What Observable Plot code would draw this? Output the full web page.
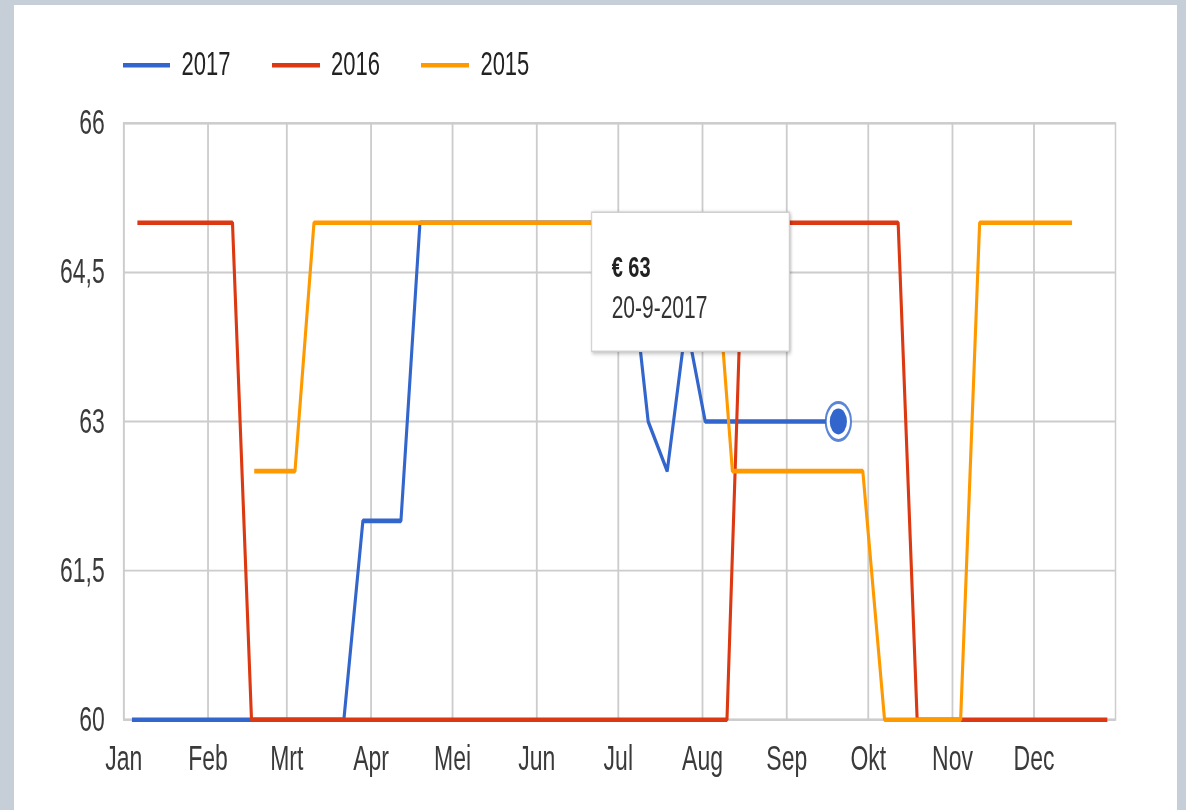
<!DOCTYPE html>
<html>
<head>
<meta charset="utf-8">
<script src="https://cdn.jsdelivr.net/npm/d3@7"></script>
<script src="https://cdn.jsdelivr.net/npm/@observablehq/plot@0.6"></script>
<style>
  html, body { margin:0; padding:0; width:1186px; height:810px; overflow:hidden; background:#c6cfd7;
    font-family:"Liberation Sans", Arial, sans-serif; }
  #panel { position:absolute; left:14px; top:5px; width:1163px; height:805px; background:#fff; }
  #stage { position:absolute; left:0; top:0; width:1186px; height:540px;
    transform:scale(1,1.5); transform-origin:0 0; }
  #stage svg { position:absolute; left:0; top:0; overflow:visible; }
  .leg { position:absolute; height:28px; display:flex; align-items:center; }
  .leg .sw { width:47.5px; height:2.8px; margin-right:11.5px; }
  .leg .tx { font-size:22px; color:#222; line-height:28px; }
</style>
</head>
<body>
<div id="panel"></div>
<div id="stage"></div>
<script>
// ---- data (month-day, placed on a common year axis) ----
const seriesNames  = ["2017", "2016", "2015"];
const seriesColors = ["#3366cc", "#dc3912", "#ff9900"];

const dates2017  = ["01-04","03-22","03-29","04-12","04-19","07-04","07-12","07-19","07-26","08-02","09-20"];
const values2017 = [60, 60, 62, 62, 65, 65, 63, 62.5, 64, 63, 63];

const dates2016  = ["01-06","02-10","02-17","08-10","08-16","10-12","10-19","12-28"];
const values2016 = [65, 65, 60, 60, 65, 65, 60, 60];

const dates2015  = ["02-18","03-04","03-11","08-05","08-12","09-29","10-07","11-04","11-11","12-15"];
const values2015 = [62.5, 62.5, 65, 65, 62.5, 62.5, 60, 60, 65, 65];

const monthLabels = ["Jan","Feb","Mrt","Apr","Mei","Jun","Jul","Aug","Sep","Okt","Nov","Dec"];
const yTicks      = [60, 61.5, 63, 64.5, 66];
const yTickLabels = ["60", "61,5", "63", "64,5", "66"];

const focusDate = "09-20";   // highlighted 2017 point (tooltip)

// ---- build table ----
const baseYear = 2016;
const toDate = md => { const [m, d] = md.split("-").map(Number); return new Date(Date.UTC(baseYear, m - 1, d)); };
const rawSeries = [[dates2017, values2017], [dates2016, values2016], [dates2015, values2015]];
const data = [];
rawSeries.forEach(([ds, vs], i) => ds.forEach((d, j) => data.push({series: seriesNames[i], date: toDate(d), value: vs[j]})));

const fi = dates2017.indexOf(focusDate);
const focus = [{date: toDate(dates2017[fi]), value: values2017[fi]}];

const monthStarts = monthLabels.map((_, i) => new Date(Date.UTC(baseYear, i, 1)));
const xDomain = [new Date(Date.UTC(baseYear, 0, 1)), new Date(Date.UTC(baseYear, 11, 31))];

const chart = Plot.plot({
  width: 1186, height: 540,
  marginLeft: 123.3, marginRight: 71, marginTop: 81.7, marginBottom: 60.7,
  style: {fontFamily: '"Liberation Sans", Arial, sans-serif', fontSize: "23px", color: "#3a3a3a", background: "transparent", overflow: "visible"},
  x: {type: "utc", domain: xDomain, ticks: monthStarts, tickFormat: d => monthLabels[d.getUTCMonth()],
      tickSize: 0, tickPadding: 17, label: null},
  y: {domain: [60, 66], ticks: yTicks, tickFormat: v => yTickLabels[yTicks.indexOf(v)],
      tickSize: 0, tickPadding: 19, label: null},
  color: {domain: seriesNames, range: seriesColors},
  marks: [
    Plot.ruleX(monthStarts, {stroke: "#cccccc", strokeWidth: 1.8}),
    Plot.ruleY(yTicks, {stroke: "#cccccc", strokeWidth: 1.3}),
    Plot.frame({stroke: "#cccccc", strokeWidth: 1.5}),
    Plot.line(data, {x: "date", y: "value", z: "series", stroke: "series", strokeWidth: 3.1,
      strokeLinejoin: "miter", strokeLinecap: "butt"}),
    Plot.dot(focus, {x: "date", y: "value", r: 12.6, fill: "white", stroke: seriesColors[0], strokeWidth: 2, strokeOpacity: 0.8}),
    Plot.dot(focus, {x: "date", y: "value", r: 8.6, fill: seriesColors[0]})
  ]
});

const stage = document.getElementById("stage");
stage.appendChild(chart);

// ---- legend ----
seriesNames.forEach((name, i) => {
  const item = document.createElement("div");
  item.className = "leg";
  item.style.left = (122.6 + i * 149.4) + "px";
  item.style.top = (43.3 - 14) + "px";
  const sw = document.createElement("span");
  sw.className = "sw"; sw.style.background = seriesColors[i];
  const tx = document.createElement("span");
  tx.className = "tx"; tx.textContent = name;
  item.appendChild(sw); item.appendChild(tx);
  stage.appendChild(item);
});

// ---- tooltip anchored to the focused point ----
const px = chart.scale("x").apply(focus[0].date);
const py = chart.scale("y").apply(focus[0].value);
const [fm, fd] = dates2017[fi].split("-").map(Number);
const tipW = 197.6, tipH = 92.7;
const tx0 = px - 246.2, ty0 = py - 46.3 - tipH;
const svg = d3.select(chart);
const tip = svg.append("g").attr("transform", `translate(${tx0},${ty0})`).attr("text-anchor", "start");
tip.append("rect").attr("width", tipW).attr("height", tipH)
  .attr("fill", "#fff").attr("stroke", "#cfcfcf").attr("stroke-width", 1)
  .style("filter", "drop-shadow(1px 1px 1.5px rgba(0,0,0,0.28))");
tip.append("text").attr("x", 20).attr("y", 43.4).attr("text-anchor", "start")
  .attr("font-size", 20).attr("font-weight", "bold").attr("fill", "#222")
  .text("€ " + String(focus[0].value).replace(".", ","));
tip.append("text").attr("x", 20).attr("y", 70.4).attr("text-anchor", "start")
  .attr("font-size", 21).attr("fill", "#333")
  .text(`${fd}-${fm}-${seriesNames[0]}`);
</script>
</body>
</html>
